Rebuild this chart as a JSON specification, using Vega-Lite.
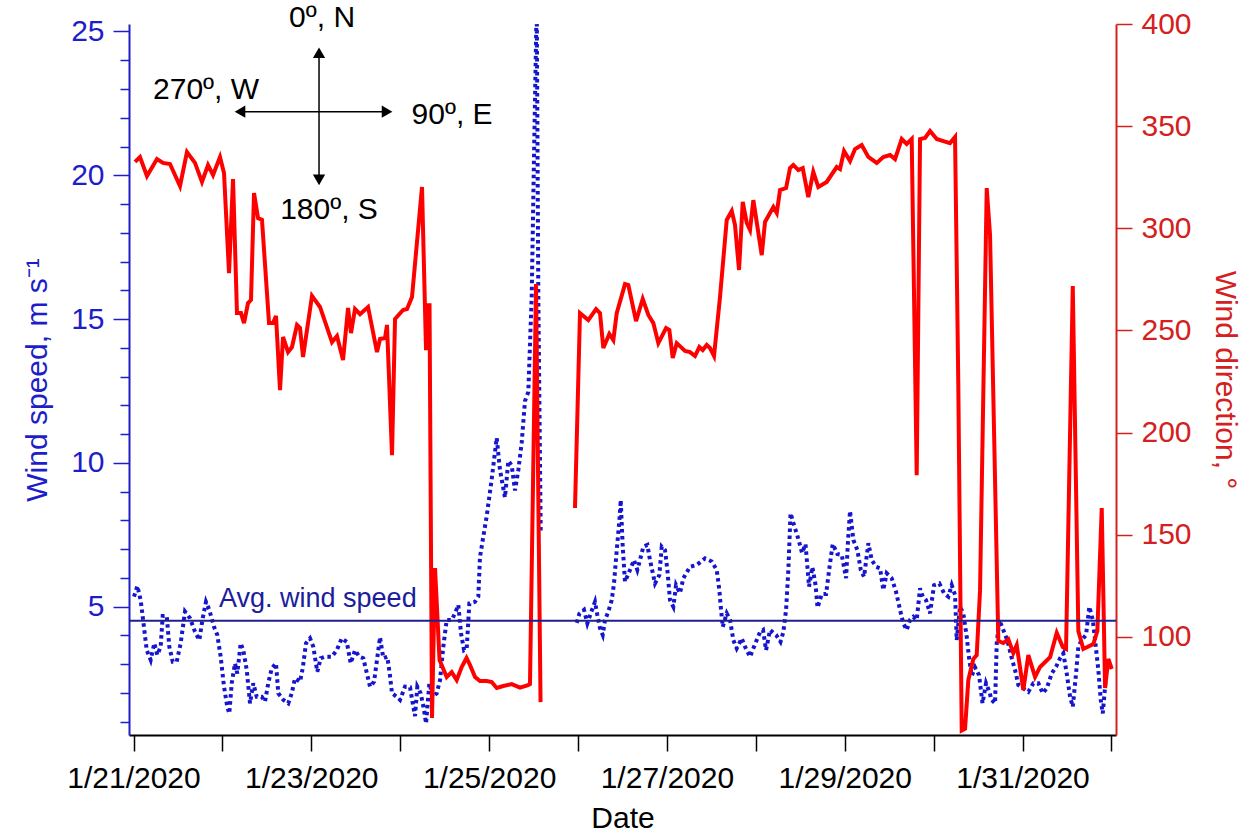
{
"$schema":"https://vega.github.io/schema/vega-lite/v6.json",
"width":987,"height":711,
"autosize":{"type":"none"},
"padding":{"left":129,"top":24,"right":136,"bottom":101},
"config":{"view":{"stroke":null},"font":"Liberation Sans","axis":{"grid":false,"labelFont":"Liberation Sans","titleFont":"Liberation Sans","titleFontWeight":"normal","labelFontSize":30,"titleFontSize":30}},
"layer":[
{"data":{"values":[
{"t":"2020-01-21T00:08","speed":5.35,"seg":1},{"t":"2020-01-21T01:02","speed":5.72,"seg":1},{"t":"2020-01-21T01:56","speed":5.23,"seg":1},{"t":"2020-01-21T02:39","speed":4.48,"seg":1},{"t":"2020-01-21T03:34","speed":3.49,"seg":1},{"t":"2020-01-21T04:38","speed":3.15,"seg":1},{"t":"2020-01-21T05:37","speed":3.73,"seg":1},{"t":"2020-01-21T06:26","speed":3.32,"seg":1},{"t":"2020-01-21T07:20","speed":3.61,"seg":1},{"t":"2020-01-21T07:53","speed":4.68,"seg":1},{"t":"2020-01-21T08:58","speed":4.68,"seg":1},{"t":"2020-01-21T09:40","speed":3.61,"seg":1},{"t":"2020-01-21T10:35","speed":3.09,"seg":1},{"t":"2020-01-21T11:40","speed":3.09,"seg":1},{"t":"2020-01-21T12:44","speed":3.73,"seg":1},{"t":"2020-01-21T13:54","speed":4.83,"seg":1},{"t":"2020-01-21T15:15","speed":4.60,"seg":1},{"t":"2020-01-21T16:36","speed":4.13,"seg":1},{"t":"2020-01-21T17:46","speed":3.84,"seg":1},{"t":"2020-01-21T18:41","speed":4.60,"seg":1},{"t":"2020-01-21T19:34","speed":5.17,"seg":1},{"t":"2020-01-21T20:28","speed":4.89,"seg":1},{"t":"2020-01-21T21:44","speed":4.30,"seg":1},{"t":"2020-01-21T22:37","speed":4.02,"seg":1},{"t":"2020-01-21T23:32","speed":3.26,"seg":1},
{"t":"2020-01-22T00:26","speed":2.22,"seg":1},{"t":"2020-01-22T01:19","speed":1.52,"seg":1},{"t":"2020-01-22T01:52","speed":1.29,"seg":1},{"t":"2020-01-22T02:31","speed":2.34,"seg":1},{"t":"2020-01-22T03:24","speed":3.03,"seg":1},{"t":"2020-01-22T04:01","speed":2.68,"seg":1},{"t":"2020-01-22T04:56","speed":3.73,"seg":1},{"t":"2020-01-22T05:38","speed":3.49,"seg":1},{"t":"2020-01-22T06:34","speed":2.80,"seg":1},{"t":"2020-01-22T07:27","speed":1.64,"seg":1},{"t":"2020-01-22T08:20","speed":2.34,"seg":1},{"t":"2020-01-22T09:16","speed":1.87,"seg":1},{"t":"2020-01-22T10:37","speed":1.87,"seg":1},{"t":"2020-01-22T11:30","speed":1.70,"seg":1},{"t":"2020-01-22T12:23","speed":2.34,"seg":1},{"t":"2020-01-22T13:19","speed":2.86,"seg":1},{"t":"2020-01-22T14:28","speed":3.03,"seg":1},{"t":"2020-01-22T15:05","speed":1.99,"seg":1},{"t":"2020-01-22T16:26","speed":1.76,"seg":1},{"t":"2020-01-22T17:47","speed":1.64,"seg":1},{"t":"2020-01-22T18:43","speed":1.99,"seg":1},{"t":"2020-01-22T19:36","speed":2.51,"seg":1},{"t":"2020-01-22T20:57","speed":2.39,"seg":1},{"t":"2020-01-22T21:41","speed":2.86,"seg":1},{"t":"2020-01-22T22:34","speed":3.73,"seg":1},{"t":"2020-01-22T23:39","speed":3.90,"seg":1},
{"t":"2020-01-23T00:32","speed":3.61,"seg":1},{"t":"2020-01-23T01:37","speed":2.74,"seg":1},{"t":"2020-01-23T02:32","speed":3.21,"seg":1},{"t":"2020-01-23T03:42","speed":3.26,"seg":1},{"t":"2020-01-23T05:31","speed":3.26,"seg":1},{"t":"2020-01-23T06:52","speed":3.49,"seg":1},{"t":"2020-01-23T08:13","speed":3.90,"seg":1},{"t":"2020-01-23T09:34","speed":3.78,"seg":1},{"t":"2020-01-23T10:38","speed":3.03,"seg":1},{"t":"2020-01-23T11:48","speed":3.49,"seg":1},{"t":"2020-01-23T12:58","speed":3.26,"seg":1},{"t":"2020-01-23T14:02","speed":3.21,"seg":1},{"t":"2020-01-23T15:07","speed":2.62,"seg":1},{"t":"2020-01-23T15:51","speed":2.22,"seg":1},{"t":"2020-01-23T16:56","speed":2.39,"seg":1},{"t":"2020-01-23T17:40","speed":3.09,"seg":1},{"t":"2020-01-23T18:33","speed":3.94,"seg":1},{"t":"2020-01-23T19:26","speed":3.21,"seg":1},{"t":"2020-01-23T20:31","speed":3.26,"seg":1},{"t":"2020-01-23T21:10","speed":2.68,"seg":1},{"t":"2020-01-23T21:47","speed":1.99,"seg":1},{"t":"2020-01-23T23:04","speed":1.87,"seg":1},{"t":"2020-01-23T23:57","speed":1.76,"seg":1},
{"t":"2020-01-24T01:18","speed":2.22,"seg":1},{"t":"2020-01-24T02:39","speed":2.20,"seg":1},{"t":"2020-01-24T03:32","speed":1.52,"seg":1},{"t":"2020-01-24T04:00","speed":1.20,"seg":1},{"t":"2020-01-24T04:37","speed":2.22,"seg":1},{"t":"2020-01-24T05:32","speed":1.99,"seg":1},{"t":"2020-01-24T06:26","speed":1.41,"seg":1},{"t":"2020-01-24T06:58","speed":0.94,"seg":1},{"t":"2020-01-24T07:52","speed":2.34,"seg":1},{"t":"2020-01-24T08:47","speed":1.87,"seg":1},{"t":"2020-01-24T09:51","speed":1.99,"seg":1},{"t":"2020-01-24T10:45","speed":2.45,"seg":1},{"t":"2020-01-24T11:38","speed":3.61,"seg":1},{"t":"2020-01-24T12:33","speed":4.54,"seg":1},{"t":"2020-01-24T13:54","speed":4.54,"seg":1},{"t":"2020-01-24T14:48","speed":4.77,"seg":1},{"t":"2020-01-24T15:41","speed":5.06,"seg":1},{"t":"2020-01-24T16:25","speed":4.07,"seg":1},{"t":"2020-01-24T17:14","speed":3.49,"seg":1},{"t":"2020-01-24T17:57","speed":3.55,"seg":1},{"t":"2020-01-24T18:40","speed":5.12,"seg":1},{"t":"2020-01-24T20:11","speed":5.17,"seg":1},{"t":"2020-01-24T21:05","speed":5.35,"seg":1},{"t":"2020-01-24T21:32","speed":6.73,"seg":1},{"t":"2020-01-24T23:21","speed":8.15,"seg":1},
{"t":"2020-01-25T00:42","speed":9.44,"seg":1},{"t":"2020-01-25T02:03","speed":10.87,"seg":1},{"t":"2020-01-25T02:56","speed":9.75,"seg":1},{"t":"2020-01-25T04:17","speed":8.80,"seg":1},{"t":"2020-01-25T05:11","speed":10.07,"seg":1},{"t":"2020-01-25T06:06","speed":9.91,"seg":1},{"t":"2020-01-25T06:59","speed":9.04,"seg":1},{"t":"2020-01-25T07:53","speed":9.75,"seg":1},{"t":"2020-01-25T08:48","speed":10.71,"seg":1},{"t":"2020-01-25T09:41","speed":12.15,"seg":1},{"t":"2020-01-25T10:35","speed":12.47,"seg":1},{"t":"2020-01-25T11:30","speed":15.82,"seg":1},{"t":"2020-01-25T12:07","speed":20.61,"seg":1},{"t":"2020-01-25T12:51","speed":26.0,"seg":1},{"t":"2020-01-25T13:17","speed":15.82,"seg":1},{"t":"2020-01-25T13:56","speed":7.53,"seg":1},
{"t":"2020-01-25T23:39","speed":4.44,"seg":2},{"t":"2020-01-26T00:21","speed":4.75,"seg":2},{"t":"2020-01-26T01:37","speed":4.89,"seg":2},{"t":"2020-01-26T02:31","speed":4.42,"seg":2},{"t":"2020-01-26T03:26","speed":4.77,"seg":2},{"t":"2020-01-26T04:35","speed":5.17,"seg":2},{"t":"2020-01-26T05:13","speed":4.71,"seg":2},{"t":"2020-01-26T05:56","speed":4.25,"seg":2},{"t":"2020-01-26T06:40","speed":4.02,"seg":2},{"t":"2020-01-26T07:17","speed":4.54,"seg":2},{"t":"2020-01-26T08:11","speed":4.83,"seg":2},{"t":"2020-01-26T09:06","speed":5.23,"seg":2},{"t":"2020-01-26T09:43","speed":5.81,"seg":2},{"t":"2020-01-26T10:27","speed":6.97,"seg":2},{"t":"2020-01-26T11:09","speed":7.96,"seg":2},{"t":"2020-01-26T11:32","speed":8.71,"seg":2},{"t":"2020-01-26T12:04","speed":7.09,"seg":2},{"t":"2020-01-26T12:41","speed":5.87,"seg":2},{"t":"2020-01-26T13:51","speed":6.22,"seg":2},{"t":"2020-01-26T15:07","speed":6.62,"seg":2},{"t":"2020-01-26T16:01","speed":6.28,"seg":2},{"t":"2020-01-26T16:44","speed":6.62,"seg":2},{"t":"2020-01-26T17:38","speed":7.09,"seg":2},{"t":"2020-01-26T18:43","speed":7.15,"seg":2},{"t":"2020-01-26T19:26","speed":6.62,"seg":2},{"t":"2020-01-26T20:47","speed":5.81,"seg":2},{"t":"2020-01-26T21:57","speed":6.10,"seg":2},{"t":"2020-01-26T22:36","speed":7.09,"seg":2},{"t":"2020-01-26T23:29","speed":6.97,"seg":2},
{"t":"2020-01-27T00:07","speed":6.28,"seg":2},{"t":"2020-01-27T00:50","speed":5.23,"seg":2},{"t":"2020-01-27T01:44","speed":5.00,"seg":2},{"t":"2020-01-27T02:28","speed":5.75,"seg":2},{"t":"2020-01-27T03:32","speed":5.47,"seg":2},{"t":"2020-01-27T04:26","speed":5.99,"seg":2},{"t":"2020-01-27T06:14","speed":6.39,"seg":2},{"t":"2020-01-27T08:03","speed":6.45,"seg":2},{"t":"2020-01-27T10:17","speed":6.68,"seg":2},{"t":"2020-01-27T12:06","speed":6.57,"seg":2},{"t":"2020-01-27T13:27","speed":6.28,"seg":2},{"t":"2020-01-27T14:09","speed":5.58,"seg":2},{"t":"2020-01-27T14:32","speed":5.00,"seg":2},{"t":"2020-01-27T15:04","speed":4.30,"seg":2},{"t":"2020-01-27T16:09","speed":4.77,"seg":2},{"t":"2020-01-27T17:02","speed":4.54,"seg":2},{"t":"2020-01-27T17:56","speed":3.84,"seg":2},{"t":"2020-01-27T18:51","speed":3.55,"seg":2},{"t":"2020-01-27T20:12","speed":3.90,"seg":2},{"t":"2020-01-27T21:05","speed":3.61,"seg":2},{"t":"2020-01-27T22:26","speed":3.26,"seg":2},{"t":"2020-01-27T23:47","speed":3.70,"seg":2},
{"t":"2020-01-28T01:08","speed":4.12,"seg":2},{"t":"2020-01-28T01:57","speed":4.19,"seg":2},{"t":"2020-01-28T02:46","speed":3.49,"seg":2},{"t":"2020-01-28T03:50","speed":4.19,"seg":2},{"t":"2020-01-28T05:28","speed":4.02,"seg":2},{"t":"2020-01-28T06:40","speed":3.78,"seg":2},{"t":"2020-01-28T07:26","speed":4.12,"seg":2},{"t":"2020-01-28T08:10","speed":4.89,"seg":2},{"t":"2020-01-28T08:47","speed":6.28,"seg":2},{"t":"2020-01-28T09:22","speed":8.25,"seg":2},{"t":"2020-01-28T10:19","speed":7.84,"seg":2},{"t":"2020-01-28T11:24","speed":7.39,"seg":2},{"t":"2020-01-28T12:29","speed":6.87,"seg":2},{"t":"2020-01-28T13:25","speed":7.18,"seg":2},{"t":"2020-01-28T14:22","speed":5.70,"seg":2},{"t":"2020-01-28T15:16","speed":6.38,"seg":2},{"t":"2020-01-28T16:08","speed":5.75,"seg":2},{"t":"2020-01-28T16:40","speed":4.97,"seg":2},{"t":"2020-01-28T17:48","speed":5.44,"seg":2},{"t":"2020-01-28T18:58","speed":5.44,"seg":2},{"t":"2020-01-28T19:58","speed":6.45,"seg":2},{"t":"2020-01-28T20:46","speed":7.18,"seg":2},{"t":"2020-01-28T22:01","speed":6.83,"seg":2},{"t":"2020-01-28T23:12","speed":6.80,"seg":2},
{"t":"2020-01-29T00:22","speed":5.99,"seg":2},{"t":"2020-01-29T00:54","speed":7.32,"seg":2},{"t":"2020-01-29T01:26","speed":8.33,"seg":2},{"t":"2020-01-29T02:20","speed":7.32,"seg":2},{"t":"2020-01-29T03:25","speed":6.97,"seg":2},{"t":"2020-01-29T04:20","speed":6.28,"seg":2},{"t":"2020-01-29T05:13","speed":6.04,"seg":2},{"t":"2020-01-29T06:23","speed":7.21,"seg":2},{"t":"2020-01-29T07:18","speed":6.62,"seg":2},{"t":"2020-01-29T08:28","speed":6.39,"seg":2},{"t":"2020-01-29T09:32","speed":6.34,"seg":2},{"t":"2020-01-29T10:25","speed":5.58,"seg":2},{"t":"2020-01-29T11:20","speed":6.16,"seg":2},{"t":"2020-01-29T12:41","speed":5.99,"seg":2},{"t":"2020-01-29T13:51","speed":5.52,"seg":2},{"t":"2020-01-29T14:56","speed":4.89,"seg":2},{"t":"2020-01-29T15:49","speed":4.42,"seg":2},{"t":"2020-01-29T16:44","speed":4.19,"seg":2},{"t":"2020-01-29T17:38","speed":4.54,"seg":2},{"t":"2020-01-29T18:31","speed":4.65,"seg":2},{"t":"2020-01-29T19:26","speed":4.54,"seg":2},{"t":"2020-01-29T20:20","speed":5.64,"seg":2},{"t":"2020-01-29T21:04","speed":5.35,"seg":2},{"t":"2020-01-29T21:57","speed":5.23,"seg":2},{"t":"2020-01-29T23:02","speed":4.77,"seg":2},
{"t":"2020-01-30T00:07","speed":5.75,"seg":2},{"t":"2020-01-30T01:32","speed":5.81,"seg":2},{"t":"2020-01-30T02:49","speed":5.47,"seg":2},{"t":"2020-01-30T03:58","speed":5.35,"seg":2},{"t":"2020-01-30T04:53","speed":5.75,"seg":2},{"t":"2020-01-30T05:47","speed":5.41,"seg":2},{"t":"2020-01-30T06:14","speed":3.84,"seg":2},{"t":"2020-01-30T07:08","speed":5.00,"seg":2},{"t":"2020-01-30T08:01","speed":4.77,"seg":2},{"t":"2020-01-30T08:56","speed":3.96,"seg":2},{"t":"2020-01-30T09:38","speed":3.15,"seg":2},{"t":"2020-01-30T10:17","speed":2.59,"seg":2},{"t":"2020-01-30T11:11","speed":2.89,"seg":2},{"t":"2020-01-30T12:16","speed":2.62,"seg":2},{"t":"2020-01-30T13:12","speed":1.64,"seg":2},{"t":"2020-01-30T14:09","speed":2.34,"seg":2},{"t":"2020-01-30T15:05","speed":2.03,"seg":2},{"t":"2020-01-30T15:38","speed":1.76,"seg":2},{"t":"2020-01-30T16:35","speed":1.64,"seg":2},{"t":"2020-01-30T17:02","speed":3.73,"seg":2},{"t":"2020-01-30T17:44","speed":4.54,"seg":2},{"t":"2020-01-30T18:49","speed":4.19,"seg":2},{"t":"2020-01-30T19:54","speed":3.84,"seg":2},{"t":"2020-01-30T21:05","speed":3.21,"seg":2},{"t":"2020-01-30T21:59","speed":2.80,"seg":2},{"t":"2020-01-30T22:52","speed":2.28,"seg":2},
{"t":"2020-01-31T00:13","speed":2.16,"seg":2},{"t":"2020-01-31T01:34","speed":2.04,"seg":2},{"t":"2020-01-31T02:55","speed":2.34,"seg":2},{"t":"2020-01-31T04:16","speed":2.34,"seg":2},{"t":"2020-01-31T05:28","speed":1.99,"seg":2},{"t":"2020-01-31T06:32","speed":2.16,"seg":2},{"t":"2020-01-31T07:53","speed":2.68,"seg":2},{"t":"2020-01-31T09:03","speed":2.91,"seg":2},{"t":"2020-01-31T10:08","speed":3.21,"seg":2},{"t":"2020-01-31T11:01","speed":3.38,"seg":2},{"t":"2020-01-31T11:56","speed":2.68,"seg":2},{"t":"2020-01-31T12:50","speed":1.87,"seg":2},{"t":"2020-01-31T13:34","speed":1.52,"seg":2},{"t":"2020-01-31T14:27","speed":2.68,"seg":2},{"t":"2020-01-31T15:04","speed":3.61,"seg":2},{"t":"2020-01-31T15:59","speed":3.84,"seg":2},{"t":"2020-01-31T17:09","speed":4.02,"seg":2},{"t":"2020-01-31T18:02","speed":5.00,"seg":2},{"t":"2020-01-31T18:58","speed":4.54,"seg":2},{"t":"2020-01-31T19:35","speed":3.84,"seg":2},{"t":"2020-01-31T20:28","speed":2.80,"seg":2},{"t":"2020-01-31T21:07","speed":1.76,"seg":2},{"t":"2020-01-31T21:40","speed":1.29,"seg":2},{"t":"2020-01-31T22:17","speed":2.22,"seg":2},{"t":"2020-01-31T22:44","speed":3.15,"seg":2},{"t":"2020-01-31T23:26","speed":2.91,"seg":2}
]},
 "mark":{"type":"line","color":"#1515cf","strokeWidth":4,"strokeDash":[3.5,3.5],"clip":true},
 "encoding":{
  "x":{"field":"t","type":"temporal","scale":{"domain":[{"year":2020,"month":1,"date":20,"hours":22,"minutes":47},{"year":2020,"month":2,"date":1,"hours":1,"minutes":14}],"nice":false},
   "axis":{"orient":"bottom","tickCount":{"interval":"day","step":1},"labelExpr":"month(datum.value)==0 && date(datum.value)%2==1 ? timeFormat(datum.value,'%-m/%-d/%Y') : ''","labelOverlap":false,"labelFlush":false,"tickSize":16,"tickWidth":1.5,"tickColor":"black","domainColor":"black","domainWidth":2,"labelColor":"black","labelFontSize":30,"labelPadding":12,"title":"Date","titleColor":"black","titlePadding":10}},
  "y":{"field":"speed","type":"quantitative","scale":{"domain":[0.54,25.26],"nice":false,"zero":false},
   "axis":{"orient":"left","values":[5,10,15,20,25],"tickSize":16,"tickWidth":1.5,"tickColor":"#1e1ec8","domainColor":"#1e1ec8","domainWidth":2,"labelColor":"#1e1ec8","labelPadding":9,"title":"Wind speed, m s⁻¹","titleColor":"#1e1ec8","titlePadding":18}},
  "detail":{"field":"seg","type":"nominal"}}},
{"data":{"values":[{"t":"2020-01-23T02:54","s":25.47},{"t":"2020-01-21T19:35","s":22.97},{"t":"2020-01-24T14:00","s":22.10},{"t":"2020-01-23T04:47","s":18.80}]},
 "mark":{"type":"point","opacity":0},
 "encoding":{
  "x":{"field":"t","type":"temporal"},
  "y":{"field":"s","type":"quantitative","scale":{"domain":[0.54,25.26],"nice":false,"zero":false},
   "axis":{"orient":"left","values":[1,2,3,4,6,7,8,9,11,12,13,14,16,17,18,19,21,22,23,24],"labels":false,"domain":false,"tickSize":9,"tickWidth":1.5,"tickColor":"#1e1ec8","title":null}}}},
{"data":{"values":[
{"t":"2020-01-21T00:24","dir":332.5,"seg":1},{"t":"2020-01-21T01:45","dir":334.9,"seg":1},{"t":"2020-01-21T03:38","dir":325.6,"seg":1},{"t":"2020-01-21T06:20","dir":333.9,"seg":1},{"t":"2020-01-21T07:58","dir":332.0,"seg":1},{"t":"2020-01-21T09:51","dir":331.5,"seg":1},{"t":"2020-01-21T12:33","dir":320.7,"seg":1},{"t":"2020-01-21T14:26","dir":337.3,"seg":1},{"t":"2020-01-21T16:36","dir":332.0,"seg":1},{"t":"2020-01-21T18:29","dir":322.7,"seg":1},{"t":"2020-01-21T20:07","dir":331.0,"seg":1},{"t":"2020-01-21T21:28","dir":326.1,"seg":1},{"t":"2020-01-21T23:21","dir":334.9,"seg":1},
{"t":"2020-01-22T00:26","dir":327.1,"seg":1},{"t":"2020-01-22T01:47","dir":278.1,"seg":1},{"t":"2020-01-22T02:52","dir":324.1,"seg":1},{"t":"2020-01-22T03:56","dir":258.5,"seg":1},{"t":"2020-01-22T05:01","dir":258.5,"seg":1},{"t":"2020-01-22T05:50","dir":253.6,"seg":1},{"t":"2020-01-22T06:55","dir":263.4,"seg":1},{"t":"2020-01-22T07:43","dir":264.9,"seg":1},{"t":"2020-01-22T08:32","dir":317.3,"seg":1},{"t":"2020-01-22T09:37","dir":305.0,"seg":1},{"t":"2020-01-22T10:41","dir":304.1,"seg":1},{"t":"2020-01-22T12:35","dir":253.6,"seg":1},{"t":"2020-01-22T13:40","dir":253.6,"seg":1},{"t":"2020-01-22T14:28","dir":257.1,"seg":1},{"t":"2020-01-22T15:33","dir":220.8,"seg":1},{"t":"2020-01-22T16:22","dir":246.8,"seg":1},{"t":"2020-01-22T17:43","dir":239.4,"seg":1},{"t":"2020-01-22T18:47","dir":241.9,"seg":1},{"t":"2020-01-22T20:08","dir":252.7,"seg":1},{"t":"2020-01-22T20:57","dir":251.2,"seg":1},{"t":"2020-01-22T21:46","dir":237.0,"seg":1},
{"t":"2020-01-23T00:11","dir":266.9,"seg":1},{"t":"2020-01-23T02:21","dir":261.5,"seg":1},{"t":"2020-01-23T05:35","dir":244.3,"seg":1},{"t":"2020-01-23T06:56","dir":247.3,"seg":1},{"t":"2020-01-23T08:34","dir":235.5,"seg":1},{"t":"2020-01-23T09:55","dir":261.0,"seg":1},{"t":"2020-01-23T10:43","dir":248.7,"seg":1},{"t":"2020-01-23T11:48","dir":260.5,"seg":1},{"t":"2020-01-23T13:09","dir":258.0,"seg":1},{"t":"2020-01-23T15:19","dir":261.5,"seg":1},{"t":"2020-01-23T17:44","dir":239.4,"seg":1},{"t":"2020-01-23T18:33","dir":245.8,"seg":1},{"t":"2020-01-23T19:54","dir":246.3,"seg":1},{"t":"2020-01-23T20:26","dir":252.7,"seg":1},{"t":"2020-01-23T21:47","dir":189.0,"seg":1},{"t":"2020-01-23T22:36","dir":255.6,"seg":1},
{"t":"2020-01-24T00:46","dir":260.0,"seg":1},{"t":"2020-01-24T01:50","dir":260.5,"seg":1},{"t":"2020-01-24T03:11","dir":266.4,"seg":1},{"t":"2020-01-24T05:53","dir":320.2,"seg":1},{"t":"2020-01-24T06:58","dir":240.4,"seg":1},{"t":"2020-01-24T07:22","dir":262.4,"seg":1},{"t":"2020-01-24T07:55","dir":262.4,"seg":1},{"t":"2020-01-24T08:35","dir":60.3,"seg":1},{"t":"2020-01-24T09:24","dir":133.7,"seg":1},{"t":"2020-01-24T10:37","dir":88.7,"seg":1},{"t":"2020-01-24T12:33","dir":80.4,"seg":1},{"t":"2020-01-24T13:54","dir":82.8,"seg":1},{"t":"2020-01-24T15:15","dir":78.9,"seg":1},{"t":"2020-01-24T16:36","dir":85.3,"seg":1},{"t":"2020-01-24T17:54","dir":89.7,"seg":1},{"t":"2020-01-24T18:51","dir":86.2,"seg":1},{"t":"2020-01-24T20:12","dir":80.4,"seg":1},{"t":"2020-01-24T21:32","dir":78.4,"seg":1},{"t":"2020-01-24T23:21","dir":78.4,"seg":1},
{"t":"2020-01-25T00:42","dir":77.9,"seg":1},{"t":"2020-01-25T02:03","dir":75.0,"seg":1},{"t":"2020-01-25T03:50","dir":76.0,"seg":1},{"t":"2020-01-25T06:06","dir":76.9,"seg":1},{"t":"2020-01-25T08:21","dir":75.2,"seg":1},{"t":"2020-01-25T10:30","dir":76.4,"seg":1},{"t":"2020-01-25T11:02","dir":76.9,"seg":1},{"t":"2020-01-25T12:40","dir":272.7,"seg":1},{"t":"2020-01-25T13:53","dir":68.1,"seg":1},
{"t":"2020-01-25T23:11","dir":163.1,"seg":2},{"t":"2020-01-26T00:32","dir":258.5,"seg":2},{"t":"2020-01-26T02:47","dir":255.1,"seg":2},{"t":"2020-01-26T04:52","dir":260.5,"seg":2},{"t":"2020-01-26T05:56","dir":258.5,"seg":2},{"t":"2020-01-26T06:50","dir":241.4,"seg":2},{"t":"2020-01-26T08:27","dir":248.3,"seg":2},{"t":"2020-01-26T09:32","dir":245.3,"seg":2},{"t":"2020-01-26T10:27","dir":258.5,"seg":2},{"t":"2020-01-26T12:41","dir":272.7,"seg":2},{"t":"2020-01-26T13:35","dir":272.2,"seg":2},{"t":"2020-01-26T15:40","dir":254.6,"seg":2},{"t":"2020-01-26T17:28","dir":265.4,"seg":2},{"t":"2020-01-26T18:59","dir":257.6,"seg":2},{"t":"2020-01-26T20:20","dir":253.6,"seg":2},{"t":"2020-01-26T21:41","dir":243.8,"seg":2},{"t":"2020-01-26T23:46","dir":251.2,"seg":2},
{"t":"2020-01-27T00:39","dir":250.2,"seg":2},{"t":"2020-01-27T01:34","dir":236.5,"seg":2},{"t":"2020-01-27T02:39","dir":243.8,"seg":2},{"t":"2020-01-27T04:53","dir":240.0,"seg":2},{"t":"2020-01-27T06:14","dir":239.4,"seg":2},{"t":"2020-01-27T07:35","dir":237.5,"seg":2},{"t":"2020-01-27T08:45","dir":241.9,"seg":2},{"t":"2020-01-27T09:40","dir":240.4,"seg":2},{"t":"2020-01-27T10:45","dir":242.9,"seg":2},{"t":"2020-01-27T11:38","dir":241.4,"seg":2},{"t":"2020-01-27T12:43","dir":237.5,"seg":2},{"t":"2020-01-27T14:20","dir":266.4,"seg":2},{"t":"2020-01-27T16:09","dir":304.1,"seg":2},{"t":"2020-01-27T17:30","dir":308.5,"seg":2},{"t":"2020-01-27T18:23","dir":301.6,"seg":2},{"t":"2020-01-27T19:28","dir":279.6,"seg":2},{"t":"2020-01-27T20:28","dir":312.9,"seg":2},{"t":"2020-01-27T21:33","dir":302.6,"seg":2},{"t":"2020-01-27T22:26","dir":299.2,"seg":2},{"t":"2020-01-27T23:20","dir":313.8,"seg":2},
{"t":"2020-01-28T01:36","dir":286.9,"seg":2},{"t":"2020-01-28T02:29","dir":303.1,"seg":2},{"t":"2020-01-28T04:44","dir":310.4,"seg":2},{"t":"2020-01-28T05:39","dir":307.5,"seg":2},{"t":"2020-01-28T06:32","dir":318.7,"seg":2},{"t":"2020-01-28T08:10","dir":319.7,"seg":2},{"t":"2020-01-28T09:14","dir":329.5,"seg":2},{"t":"2020-01-28T10:08","dir":331.0,"seg":2},{"t":"2020-01-28T11:29","dir":328.5,"seg":2},{"t":"2020-01-28T12:40","dir":329.5,"seg":2},{"t":"2020-01-28T14:10","dir":315.3,"seg":2},{"t":"2020-01-28T15:31","dir":327.6,"seg":2},{"t":"2020-01-28T16:52","dir":320.2,"seg":2},{"t":"2020-01-28T19:08","dir":322.7,"seg":2},{"t":"2020-01-28T21:50","dir":330.0,"seg":2},{"t":"2020-01-28T22:44","dir":329.0,"seg":2},{"t":"2020-01-28T23:49","dir":337.8,"seg":2},
{"t":"2020-01-29T01:26","dir":332.9,"seg":2},{"t":"2020-01-29T02:47","dir":338.8,"seg":2},{"t":"2020-01-29T04:35","dir":340.8,"seg":2},{"t":"2020-01-29T06:22","dir":334.9,"seg":2},{"t":"2020-01-29T08:38","dir":332.0,"seg":2},{"t":"2020-01-29T10:25","dir":334.9,"seg":2},{"t":"2020-01-29T12:14","dir":335.9,"seg":2},{"t":"2020-01-29T13:35","dir":333.9,"seg":2},{"t":"2020-01-29T15:23","dir":343.7,"seg":2},{"t":"2020-01-29T16:44","dir":341.3,"seg":2},{"t":"2020-01-29T18:05","dir":343.7,"seg":2},{"t":"2020-01-29T19:26","dir":179.2,"seg":2},{"t":"2020-01-29T20:20","dir":343.7,"seg":2},{"t":"2020-01-29T21:41","dir":344.2,"seg":2},{"t":"2020-01-29T23:02","dir":347.6,"seg":2},
{"t":"2020-01-30T00:50","dir":343.7,"seg":2},{"t":"2020-01-30T02:37","dir":342.7,"seg":2},{"t":"2020-01-30T04:26","dir":341.7,"seg":2},{"t":"2020-01-30T05:47","dir":344.7,"seg":2},{"t":"2020-01-30T06:40","dir":222.8,"seg":2},{"t":"2020-01-30T07:35","dir":54.2,"seg":2},{"t":"2020-01-30T08:29","dir":55.1,"seg":2},{"t":"2020-01-30T09:22","dir":78.9,"seg":2},{"t":"2020-01-30T10:43","dir":89.2,"seg":2},{"t":"2020-01-30T11:38","dir":91.1,"seg":2},{"t":"2020-01-30T12:32","dir":122.9,"seg":2},{"t":"2020-01-30T14:20","dir":319.7,"seg":2},{"t":"2020-01-30T15:14","dir":296.7,"seg":2},{"t":"2020-01-30T17:28","dir":98.0,"seg":2},{"t":"2020-01-30T18:49","dir":97.0,"seg":2},{"t":"2020-01-30T20:10","dir":98.9,"seg":2},{"t":"2020-01-30T21:31","dir":92.1,"seg":2},{"t":"2020-01-30T22:26","dir":96.0,"seg":2},
{"t":"2020-01-31T00:13","dir":74.0,"seg":2},{"t":"2020-01-31T01:34","dir":91.1,"seg":2},{"t":"2020-01-31T03:23","dir":80.4,"seg":2},{"t":"2020-01-31T04:44","dir":85.3,"seg":2},{"t":"2020-01-31T07:26","dir":90.1,"seg":2},{"t":"2020-01-31T09:14","dir":102.0,"seg":2},{"t":"2020-01-31T10:52","dir":95.0,"seg":2},{"t":"2020-01-31T11:45","dir":94.1,"seg":2},{"t":"2020-01-31T13:34","dir":271.8,"seg":2},{"t":"2020-01-31T15:04","dir":102.9,"seg":2},{"t":"2020-01-31T16:25","dir":94.1,"seg":2},{"t":"2020-01-31T19:07","dir":96.5,"seg":2},{"t":"2020-01-31T20:12","dir":102.9,"seg":2},{"t":"2020-01-31T21:23","dir":163.1,"seg":2},{"t":"2020-01-31T22:17","dir":75.0,"seg":2},{"t":"2020-01-31T23:10","dir":89.2,"seg":2},{"t":"2020-02-01T00:05","dir":84.3,"seg":2}
]},
 "mark":{"type":"line","color":"#ff0000","strokeWidth":4},
 "encoding":{
  "x":{"field":"t","type":"temporal"},
  "y":{"field":"dir","type":"quantitative","scale":{"domain":[52,400],"nice":false,"zero":false},
   "axis":{"orient":"right","values":[100,150,200,250,300,350,400],"tickSize":16,"tickWidth":1.5,"tickColor":"#d42020","domainColor":"#d42020","domainWidth":2,"labelColor":"#d42020","labelPadding":9,"title":"Wind direction, °","titleColor":"#d42020","titlePadding":18}},
  "detail":{"field":"seg","type":"nominal"}}},
{"data":{"values":[{"avg":4.51}]},"mark":{"type":"rule","color":"#1f1f90","strokeWidth":2},
 "encoding":{"y":{"field":"avg","type":"quantitative","scale":{"domain":[0.54,25.26],"nice":false,"zero":false},"axis":null}}},
{"data":{"values":[{"t1":"2020-01-23T02:05","t2":"2020-01-23T02:05","s1":24.26,"s2":19.84},{"t1":"2020-01-22T04:45","t2":"2020-01-23T20:27","s1":22.21,"s2":22.21}]},"mark":{"type":"rule","color":"black","strokeWidth":1.5},
 "encoding":{
  "x":{"field":"t1","type":"temporal"},
  "x2":{"field":"t2"},
  "y":{"field":"s1","type":"quantitative","scale":{"domain":[0.54,25.26],"nice":false,"zero":false},"axis":null},
  "y2":{"field":"s2"}}},
{"data":{"values":[{"t":"2020-01-23T02:05","s":24.26,"head":"N"},{"t":"2020-01-23T02:05","s":19.84,"head":"S"},{"t":"2020-01-23T20:27","s":22.21,"head":"E"},{"t":"2020-01-22T04:45","s":22.21,"head":"W"}]},"mark":{"type":"point","filled":true,"color":"black","opacity":1,"size":150},
 "encoding":{
  "x":{"field":"t","type":"temporal"},
  "y":{"field":"s","type":"quantitative","scale":{"domain":[0.54,25.26],"nice":false,"zero":false},"axis":null},
  "shape":{"field":"head","type":"nominal","scale":{"domain":["N","S","E","W"],"range":["triangle-up","triangle-down","triangle-right","triangle-left"]},"legend":null}}},
{"data":{"values":[{"t":"2020-01-23T02:54","s":25.47,"label":"0º, N"},{"t":"2020-01-21T19:35","s":22.97,"label":"270º, W"},{"t":"2020-01-24T14:00","s":22.10,"label":"90º, E"},{"t":"2020-01-23T04:47","s":18.80,"label":"180º, S"}]},"mark":{"type":"text","fontSize":30,"color":"black","align":"center","baseline":"middle"},
 "encoding":{
  "x":{"field":"t","type":"temporal"},
  "y":{"field":"s","type":"quantitative","scale":{"domain":[0.54,25.26],"nice":false,"zero":false},"axis":null},
  "text":{"field":"label"}}},
{"data":{"values":[{"t":"2020-01-21T23:05","s":4.99,"label":"Avg. wind speed"}]},"mark":{"type":"text","fontSize":27,"color":"#1c1c9c","align":"left","baseline":"alphabetic"},
 "encoding":{
  "x":{"field":"t","type":"temporal"},
  "y":{"field":"s","type":"quantitative","scale":{"domain":[0.54,25.26],"nice":false,"zero":false},"axis":null},
  "text":{"field":"label"}}}
],
"resolve":{"scale":{"y":"independent"}}
}
